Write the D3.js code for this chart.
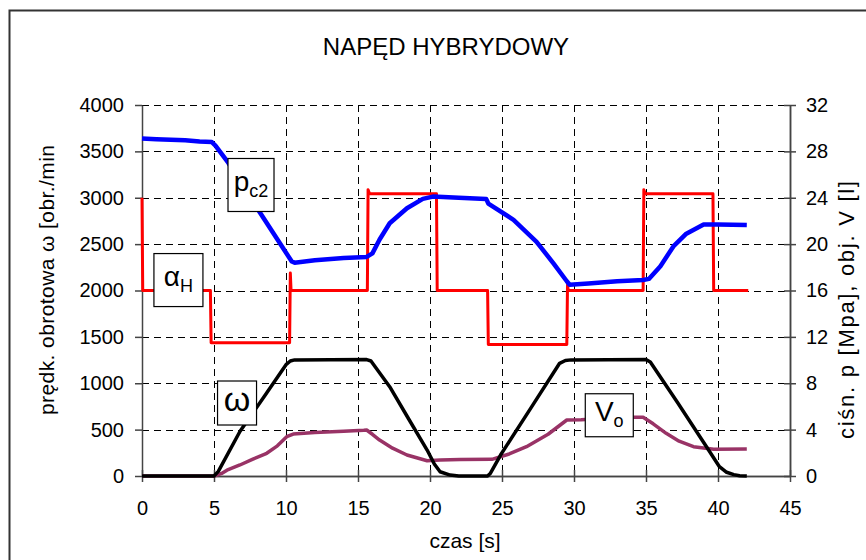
<!DOCTYPE html>
<html>
<head>
<meta charset="utf-8">
<script src="https://cdn.jsdelivr.net/npm/d3@7"></script>
<style>
  body { margin: 0; background: #fff; }
  svg text { font-family: "Liberation Sans", Arial, sans-serif; fill: #000; }
  .grid line { stroke: #000; stroke-width: 1; stroke-dasharray: 7 5; }
  .axis path, .axis line { stroke: #444; stroke-width: 1.5; }
  .axis text { font-size: 20px; }
</style>
</head>
<body>
<svg width="866" height="560"></svg>
<script>
// czas [s]
var xTicks = [0, 5, 10, 15, 20, 25, 30, 35, 40, 45];
var leftTicks = [0, 500, 1000, 1500, 2000, 2500, 3000, 3500, 4000];
var rightTicks = [0, 4, 8, 12, 16, 20, 24, 28, 32];

// alfa_H (prawa oś) - skoki
var alfaT = [0, 0.05, 4.75, 4.8, 10.25, 10.3, 10.35, 15.65, 15.7, 15.8, 20.45, 20.5, 24.0, 24.05, 29.5, 29.55, 29.6, 34.8, 34.85, 34.95, 39.65, 39.7, 42.1];
var alfaV = [24, 16, 16, 11.5, 11.5, 17.5, 16, 16, 24.7, 24.35, 24.35, 16, 16, 11.35, 11.35, 16.5, 16, 16, 24.7, 24.35, 24.35, 16, 16];

// p_c2 [MPa] (prawa oś)
var pT = [0, 1, 2, 3, 4, 4.85, 5.1, 6.0, 8.2, 10.4, 10.6, 12, 14, 15.6, 16.0, 16.5, 17.2, 18.4, 19.5, 20.2, 22, 23.9, 24.05, 25.8, 27.4, 28.6, 29.5, 29.7, 31, 33, 34.8, 35.2, 36.0, 36.9, 37.8, 39.0, 40, 42.0];
var pV = [29.1, 29.05, 29.0, 28.95, 28.85, 28.8, 28.5, 27.0, 22.7, 18.5, 18.4, 18.6, 18.8, 18.9, 19.2, 20.4, 21.8, 23.1, 23.9, 24.1, 24.0, 23.9, 23.5, 22.1, 20.2, 18.3, 16.8, 16.5, 16.6, 16.8, 16.9, 17.0, 18.1, 19.8, 20.9, 21.7, 21.7, 21.65];

// omega [obr/min] (lewa oś)
var wT = [0, 5.0, 5.3, 6.8, 8.5, 10.0, 10.3, 10.6, 15.6, 15.9, 17.2, 18.5, 19.8, 20.3, 20.7, 21.4, 22, 24.0, 24.2, 24.9, 27, 29.0, 29.4, 29.8, 35.0, 35.3, 37.2, 39.2, 40.1, 40.6, 41.1, 41.5, 42.0];
var wV = [0, 0, 50, 480, 860, 1200, 1240, 1252, 1255, 1240, 963, 620, 280, 130, 46, 10, 0, 0, 30, 226, 732, 1215, 1245, 1252, 1255, 1230, 790, 316, 100, 40, 15, 3, 0];

// V_o [l] (prawa oś)
var vT = [0, 5.0, 5.5, 5.9, 6.8, 7.7, 8.66, 9.4, 10.05, 10.5, 12, 14, 15.4, 15.6, 16.0, 16.5, 17.4, 18.4, 19.8, 20.7, 22.1, 24.3, 25.5, 26.7, 28.2, 29.5, 30.5, 32, 34.1, 34.8, 35.5, 36.4, 37.3, 38.3, 39.7, 42.0];
var vV = [0, 0, 0.2, 0.5, 0.95, 1.45, 1.96, 2.6, 3.39, 3.62, 3.75, 3.85, 3.95, 3.97, 3.6, 3.1, 2.4, 1.81, 1.32, 1.38, 1.42, 1.44, 1.9, 2.53, 3.6, 4.83, 4.85, 4.95, 5.06, 5.06, 4.5, 3.68, 3.0, 2.53, 2.30, 2.33];

// etykiety
var labelText = ["p", "\u03b1", "\u03c9", "V"];
var labelSub = ["c2", "H", "", "o"];
var labelT = [7.57, 2.53, 6.6, 32.45];
var labelVal = [25.1, 16.9, 787, 5.24];
var labelAxis = ["r", "r", "l", "r"];

var svg = d3.select("svg");

var x = d3.scaleLinear().domain([0, 45]).range([142, 790]);
var yL = d3.scaleLinear().domain([0, 4000]).range([476, 105]);
var yR = d3.scaleLinear().domain([0, 32]).range([476, 105]);

// ramka
svg.append("path")
    .attr("d", "M9.5,870 L9.5,10.5 L870,10.5")
    .attr("fill", "none").attr("stroke", "#333").attr("stroke-width", 2);

svg.append("text")
    .attr("x", 446).attr("y", 55)
    .attr("text-anchor", "middle")
    .style("font-size", "24px")
    .text("NAPĘD HYBRYDOWY");

// siatka
var grid = svg.append("g").attr("class", "grid");
grid.selectAll("line.h").data(leftTicks.filter(d => d > 0)).enter().append("line")
    .attr("x1", x(0)).attr("x2", x(45))
    .attr("y1", d => Math.round(yL(d)) + 0.5).attr("y2", d => Math.round(yL(d)) + 0.5);
grid.selectAll("line.v").data(xTicks.filter(d => d > 0 && d < 45)).enter().append("line")
    .attr("y1", yL(4000)).attr("y2", yL(0))
    .attr("x1", d => Math.round(x(d)) + 0.5).attr("x2", d => Math.round(x(d)) + 0.5);

// osie
svg.append("g").attr("class", "axis")
    .attr("transform", "translate(" + x(0) + ",0)")
    .call(d3.axisLeft(yL).tickValues(leftTicks).tickFormat(d3.format("d")).tickSize(7).tickPadding(11).tickSizeOuter(0));

svg.append("g").attr("class", "axis")
    .attr("transform", "translate(" + x(45) + ",0)")
    .call(d3.axisRight(yR).tickValues(rightTicks).tickSize(6).tickPadding(10).tickSizeOuter(0));
svg.append("g").attr("class", "axis")
    .attr("transform", "translate(" + x(45) + ",0)")
    .call(d3.axisLeft(yR).tickValues(rightTicks).tickSize(6).tickFormat("").tickSizeOuter(0));

svg.append("g").attr("class", "axis")
    .attr("transform", "translate(0," + yL(0) + ")")
    .call(d3.axisBottom(x).tickValues(xTicks).tickSize(6).tickPadding(19).tickSizeOuter(0));
svg.append("g").attr("class", "axis")
    .attr("transform", "translate(0," + yL(0) + ")")
    .call(d3.axisTop(x).tickValues(xTicks).tickSize(6).tickFormat("").tickSizeOuter(0));

// tytuły osi
svg.append("text")
    .attr("x", 465).attr("y", 548)
    .attr("text-anchor", "middle")
    .style("font-size", "21px")
    .text("czas [s]");

svg.append("text")
    .attr("transform", "translate(54,280) rotate(-90)")
    .attr("text-anchor", "middle")
    .attr("textLength", 270)
    .attr("lengthAdjust", "spacing")
    .style("font-size", "21px")
    .text("prędk. obrotowa ω [obr./min");

svg.append("text")
    .attr("transform", "translate(854,310) rotate(-90)")
    .attr("text-anchor", "middle")
    .attr("textLength", 258)
    .attr("lengthAdjust", "spacing")
    .style("font-size", "22px")
    .text("ciśn. p [Mpa], obj. V [l]");

// linie
function drawLine(ts, vs, scale, color, w) {
    var line = d3.line()
        .x(function(d) { return x(d[0]); })
        .y(function(d) { return scale(d[1]); });
    svg.append("path")
        .datum(ts.map((t, i) => [t, vs[i]]))
        .attr("d", line)
        .attr("fill", "none")
        .attr("stroke", color)
        .attr("stroke-width", w)
        .attr("stroke-linejoin", "round");
}

drawLine(vT, vV, yR, "#993366", 3.5);
drawLine(wT, wV, yL, "#000000", 3.5);
drawLine(alfaT, alfaV, yR, "#ff0000", 3);
drawLine(pT, pV, yR, "#0000ff", 4.5);

// etykiety
var boxW = [46, 49, 39, 48], boxH = [53, 53, 44, 43], mainSize = [28, 28, 34, 28];
labelText.forEach(function(txt, i) {
    var cx = x(labelT[i]);
    var cy = (labelAxis[i] == "l" ? yL : yR)(labelVal[i]);
    var g = svg.append("g");
    g.append("rect")
        .attr("x", cx - boxW[i] / 2).attr("y", cy - boxH[i] / 2)
        .attr("width", boxW[i]).attr("height", boxH[i])
        .attr("fill", "#fff").attr("stroke", "#000").attr("stroke-width", 1.2);
    var t = g.append("text")
        .attr("x", cx).attr("y", cy + (i == 2 ? 8 : 6))
        .attr("text-anchor", "middle")
        .style("font-size", mainSize[i] + "px");
    t.append("tspan").text(txt);
    if (labelSub[i]) {
        t.append("tspan").attr("dy", 6).style("font-size", "18px").text(labelSub[i]);
    }
});
</script>
</body>
</html>
